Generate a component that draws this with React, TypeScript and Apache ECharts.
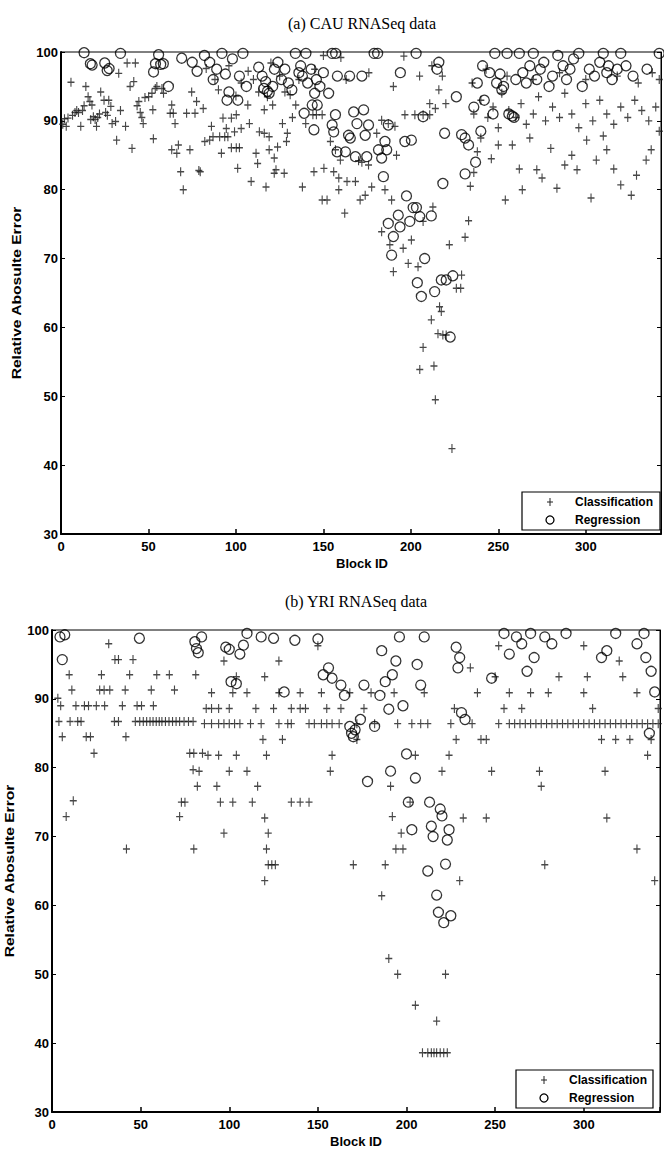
import React, { useEffect, useRef } from "react";
import * as echarts from "echarts";

const xTickLabels = [0, 50, 100, 150, 200, 250, 300];
const yTickLabels = [30, 40, 50, 60, 70, 80, 90, 100];
const titles = ["(a) CAU RNASeq data", "(b) YRI RNASeq data"];
const seriesNames = ["Classification", "Regression"];
const xName = "Block ID";
const yName = "Relative Abosulte Error";

const cauClassification = [
  [1,89.5],[2,90.3],[3,89.2],[4,90.4],[5.7,95.6],[6.6,90.8],[8,91.2],[9,91.5],[10,91.2],[11.3,89.2],[12.3,91.5],[13.2,92.2],[14.2,95],[15.5,93.5],[16.5,92.8],[17.7,92.3],[17,90.2],[18.5,90.6],[19.5,90.2],[20.3,89.2],[21,90.5],[22,91],[22.7,94.2],[24.6,93],[25.5,91.2],[26.5,90.8],[27.3,93],[28.5,92.1],[29.2,89.6],[31.2,89.9],[31.8,87.2],[33,96.9],[34,91.5],[36.9,89.2],[37.8,98.4],[39.5,95],[40.6,86],[41.6,95.7],[42.5,98.4],[43.5,92.2],[44.5,92.8],[45.3,91.2],[46.2,90.5],[47,89.6],[48,93.4],[50.1,93.5],[52,94],[53.9,94.7],[54.8,95],[57.7,94.7],[58.6,94],[52.5,91.6],[52.8,87.4],
  [62.4,91.1],[63.3,92.3],[64.2,91.1],[65.2,89.6],[71.8,91.1],[74.7,94.2],[76.6,91.1],[77.5,92.8],[81.3,91.8],[63.3,85.8],[66.2,85.3],[67.1,86.5],[73.7,85.8],[68.4,82.6],[78.8,82.8],[79.6,82.6],[69.9,80],[82.2,87],[85,87.2],[86,89.2],[86.9,87.7],[90.7,87.7],[93.6,87.7],[95.4,87.7],[91.7,85.3],[97.4,86.1],[100.2,86.1],[102,86.1],[101,83.1],[92.6,90.4],[97.4,90.4],[100.2,90.9],[94.5,88.9],[99.2,88.4],[103,88.9],[107.7,89.6],[106.8,92.3],[116.2,91.6],[121,92.3],[113.4,88.4],[116.2,88.2],[119,87.7],[111.5,85.3],[112.4,83.8],[108.7,81.2],[117.2,80.4],[119,85.8],[121.9,84.6],[123.8,86.2],[128.9,87],[122.9,82.9],[121.9,82.4],[127.6,82.4],[126.6,89.6],[129.4,88.2],[132.3,90.5],[134.2,92.3],[138,80.4],[139.9,89.6],[144,90.9],[146,90.9],[149.3,90.9],[144.6,82.6],[150.3,83.1],[155.9,82.6],[158.8,81.7],[149.3,78.5],[152.1,78.5],[158.8,80],[162.2,76.6],[154,87],[156.9,85.8],[159.7,84.3],[163.5,81.2],[168.3,81.2],[171,78.5],[173.9,79.2],[177.6,80.4],[172,84],[175.8,83.6],[170.1,84.2],[180.5,88.2],[183.3,90.1],[187.1,89.6],[190.9,89.2],[191.8,85],[185.2,80],[189,78.5],[196.6,90.9],[202.3,90.9],[207,90.9],[210.8,90.9],[210.8,92.5],
  [183.3,73.9],[188,72],[195.6,71.5],[200.3,72.7],[198.5,69.3],[204.1,68.8],[207,75.4],[212.6,77.5],[190,68.1],[216.4,63],[217.4,62.3],[211.7,61.1],[215.5,59.1],[218.3,58.9],[220.2,58.9],[207,57.1],[205.1,53.9],[213.2,54.4],[214,49.5],[223.5,42.4],
  [222,72],[226,65.7],[228.5,65.7],[229,67.6],[231,73.1],[233,75.5],[234,80.5],[236,82.5],[238,85.5],[240,87.5],
  [83,97.6],[88,96],[90,94.5],[96,98],[100,93.6],[103,95.5],[107,97.2],[110,96],[113,94.2],[118,93.5],[120,98.4],[125,96.5],[128,94.2],[131,93.8],[136,96],[145,97.5],[150,99.5],[160,99.2],[163,96],[176,97],[190,95],[196,99.4],[205,96.5],[212,98],[216,94.5],[218,96.5],[214,91.8],[220,92.5],
  [236,91],[240,93],[244,90.5],[247,92],[250,89],[252,94],[256,91.5],[260,90.5],[263,92.5],[266,89.5],[270,91],[273,93.5],[277,90],[281,92],[285,90.5],[288,94],[292,91],[296,89],[300,92.5],[304,90],[308,93],[312,91],[316,89.5],[320,92],[324,90.5],[328,93],[332,91.5],[336,90],[340,92],[342,96],[338,97],[330,95.5],[318,96.5],[300,96],[285,97],[270,96],[255,96.5],[243,97.5],[235,95.5],
  [262,83],[263.7,80],[272,82.9],[275,81.7],[283.5,80.2],[288,83.6],[292,85],[295,82.9],[300.5,87.2],[306,84.3],[312,85.8],[320,80.7],[326,79.2],[329,82.1],[334.5,84.3],[337.4,85.8],[258,86.5],[268,87.5],[280,86],[310,87.8],[316,83],[342,88.5],[246,84.5],[250,86.5],[303,78.8],[254,78.5]
];

const cauRegression = [
  [13.2,99.9],[16.8,98.3],[17.8,98.1],[25,98.4],[26.4,97.3],[27.5,97.6],[34,99.8],[52.9,97.1],[54,98.3],[55.8,99.6],[57,98.2],[58.5,98.3],[61.4,95],[69,99.1],[75,98.5],[77.8,97.2],
  [82,99.5],[85,98.5],[87,96],[89,97.5],[92,99.8],[94,96.8],[94.9,93],[96,94.2],[98,99],[101.1,93],[102,96.5],[104,99.8],[106,95],[113,97.8],[115,96.5],[116,94.7],[117,95.7],[118,94.3],[119,94],[121,95],[122,97.5],[124,98.5],[126,96],[128,97.5],[130,95.5],[132,94.5],[134,99.8],[136,97],[137,98],[138,96.5],[140,99.8],[141,95.5],[143,97.5],[145,94],[146,96],[148,95],[150,97],[153,94],[155,99.8],[157,99.8],[158,96.5],[165,96.5],[172,96.5],[179,99.8],[181,99.8],[194,97],[203,99.8],[215,97.5],[216,98.5],
  [143.6,92.3],[146.5,92.3],[139,91.1],[144.6,88.7],[156.9,90.9],[155,89.4],[155.9,88.4],[167.3,91.3],[169.2,89.6],[173,91.6],[175.8,89.4],[164.4,87.9],[165.4,87.5],[173.9,87.9],[157.8,85.5],[162.6,85.5],[168.3,84.8],[174.8,84.8],[181.5,85.8],[186.2,85.8],[185.2,87],[183.3,84.6],[187.1,89.4],[207,90.6],[196.6,87],[200.3,87.2],[184.3,81.9],[219.3,88.2],[218.3,80.9],[197.5,79.1],[201.3,77.4],[203.2,77.4],[211.7,76.2],[192.8,76.3],[187.1,75.1],[193.8,74.6],[199.4,75.4],[205.1,76.1],[190,73.2],[189,70.5],[207.9,70],[203.7,66.5],[206,64.5],[213.6,65.2],[217.4,66.9],[220.2,66.9],[222.5,58.6],[224,67.5],
  [226,93.5],[229,88],[231,87.5],[233,86.5],[236,92],[238,95.5],[241,98],[242,93],[245,97],[247,91],[248,99.8],[249,95.5],[251,96.8],[252,94.5],[255,99.8],[256,91],[258,90.7],[259,90.5],[262,99.8],[264,97],[266,95.5],[268,98],[270,99.8],[272,96],[274,97.5],[276,98.5],[279,95],[281,96.5],[284,99.5],[287,98],[289,96],[291,97.5],[293,99],[296,99.8],[298,95],[302,97.5],[305,96.5],[308,98.5],[310,99.8],[312,97],[313,98],[315,96],[318,97.5],[320,99.8],[323,98],[327,96.5],[335,97.5],[342,99.8],[237,84],[240,88.5],[253,95],[260,96],[231,82.3]
];

const yriClassification = [
  [32,98],[35.5,95.7],[37.5,95.7],[45.7,95.7],[9.7,93.5],[27.9,93.5],[43.8,93.5],[59.1,93.5],[66.2,93.5],[81.1,93.5],[11.2,91.3],[26.9,91.3],[29.4,91.3],[32.6,91.3],[41.3,91.3],[56,91.3],[69.1,91.3],[4.9,89],[13.5,89],[18.3,89],[20.6,89],[25,89],[29.7,89],[39.7,89],[48,89],[50.5,89],[57.2,89],[3.3,90.1],
  [3.9,86.7],[10.2,86.7],[14.5,86.7],[16.4,86.7],[35.2,86.7],[37.5,86.7],[47,86.7],[49.5,86.7],[51.5,86.7],[53.4,86.7],[55.3,86.7],[57,86.7],[58.8,86.7],[60.5,86.7],[62,86.7],[64,86.7],[66,86.7],[68,86.7],[70,86.7],[72,86.7],[74.5,86.7],[77,86.7],[79.6,86.7],
  [5.8,84.5],[19.3,84.5],[21.7,84.5],[41.7,84.5],[23.7,82.1],[77.7,82.1],[80,82.1],[84.9,82.1],[79.6,79.7],
  [12,75.2],[8,72.9],[73,75],[75,75],[72,72.9],[82,77.3],[83,79.5],[80,68.2],[42,68.2],
  [86,86.4],[90,86.4],[94,86.4],[97,86.4],[100,86.4],[103,86.4],[106,86.4],[112,86.4],[118,86.4],[128,86.4],[133,86.4],[135,86.4],[145,86.4],[148,86.4],[152,86.4],[155,86.4],[158,86.4],[162,86.4],[172,86.4],[182,86.4],[195,86.4],[203,86.4],[208,86.4],[212,86.4],[225,86.4],[237,86.4],[252,86.4],[258,86.4],
  [261,86.4],[264,86.4],[267,86.4],[270,86.4],[273,86.4],[276,86.4],[279,86.4],[282,86.4],[285,86.4],[288,86.4],[291,86.4],[294,86.4],[297,86.4],[300,86.4],[303,86.4],[306,86.4],[309,86.4],[312,86.4],[315,86.4],[318,86.4],[321,86.4],[324,86.4],[327,86.4],[330,86.4],[333,86.4],[336,86.4],[339,86.4],[342,86.4],
  [87,88.6],[90,88.6],[94,88.6],[100,88.6],[115,88.6],[125,88.6],[135,88.6],[140,88.6],[143,88.6],[155,88.6],[163,88.6],[176,88.6],[227,88.6],[255,88.6],[265,88.6],[305,88.6],[342,88.6],
  [90,90.9],[102,90.9],[110,90.9],[128,90.9],[140,90.9],[152,90.9],[168,90.9],[180,90.9],[193,90.9],[210,90.9],[240,90.9],[258,90.9],[270,90.9],[280,90.9],[300,90.9],[330,90.9],
  [104,93.2],[120,93.2],[236,94.5],[250,93.2],[286,93.2],[302,93.2],[322,93.2],[97,95.5],[128,95.5],[320,95.5],[252,97.7],[300,97.7],[150,97.7],
  [119,84.1],[130,84.1],[172,84.1],[228,84.1],[242,84.1],[245,84.1],[310,84.1],[318,84.1],[326,84.1],[338,84.1],
  [88,81.8],[94,81.8],[104,81.8],[121,81.8],[158,81.8],[205,81.8],[224,81.8],[336,81.8],
  [100,79.5],[110,79.5],[157,79.5],[220,79.5],[248,79.5],[275,79.5],[312,79.5],
  [93,77.3],[116,77.3],[191,77.3],[276,77.3],
  [95,75],[102,75],[113,75],[135,75],[140,75],[145,75],[202,75],
  [120,72.7],[192,72.9],[232,72.7],[245,72.7],[313,72.7],
  [97,70.5],[122,70.5],[197,70.5],
  [121,68.2],[194,68.2],[198,68.2],[330,68.2],
  [122,65.9],[124,65.9],[126,65.9],[170,65.9],[188,65.9],[278,65.9],
  [120,63.6],[230,63.6],[340,63.6],
  [186,61.4],[190,52.3],[195,50],[222,50],[205,45.5],[217,43.2],
  [209,38.6],[212,38.6],[214,38.6],[215.5,38.6],[217,38.6],[219,38.6],[221,38.6],[223,38.6]
];

const yriRegression = [
  [4.5,99],[7.2,99.3],[5.8,95.7],[49.3,98.8],[80.6,98.3],[81.5,97.3],[82.5,96.7],[84.4,99],[98,97.5],[100,97.2],[101,92.5],[104,92.2],[106,96.5],[108,97.8],[110,99.5],[118,99],[125,98.8],[131,91],[137,98.5],[150,98.7],[153,93.5],[156,94.5],[158,93],[163,92],[165,90.5],[168,86],[169,85],[170,84.5],[171,85.5],[174,87],[176,92],[178,78],[182,86],[185,90.5],[186,97],[188,92.5],[190,88.5],[191,79.5],[192,93.5],[194,95.5],[196,99],[198,89],[200,82],[201,75],[203,71],[205,78.5],[206,95],[208,92],[210,99],[212,65],[213,75],[214,71.5],[215,70],[217,61.5],[218,59],[219,74],[220,73],[221,57.5],[222,66],[223,69.5],[224,71],[225,58.5],[228,97.5],[229,94.5],[230,96],[231,88],[233,87],[248,93],[255,99.5],[258,96.5],[262,99],[265,98],[268,94],[270,99.5],[272,96],[278,99],[282,98],[290,99.5],[310,96],[313,97],[318,99.5],[330,98],[334,99.5],[335,96],[337,85],[338,94],[340,91]
];

const PLUS = "path://M4.2,0H5.8V4.2H10V5.8H5.8V10H4.2V5.8H0V4.2H4.2Z";
const SANS = "Liberation Sans";
const SERIF = "Liberation Serif";

function legendGroup(x: number, y: number, w: number, h: number) {
  const mx = x + 28;
  const tx = x + 53;
  const r1 = y + 10;
  const r2 = y + 28;
  return {
    type: "group",
    children: [
      { type: "rect", shape: { x, y, width: w, height: h }, style: { fill: "#fff", stroke: "#000", lineWidth: 1.2 }, z: 100 },
      { type: "line", shape: { x1: mx, y1: r1 - 4, x2: mx, y2: r1 + 4 }, style: { stroke: "#222", lineWidth: 1 }, z: 101 },
      { type: "line", shape: { x1: mx - 3, y1: r1, x2: mx + 3, y2: r1 }, style: { stroke: "#222", lineWidth: 1 }, z: 101 },
      { type: "circle", shape: { cx: mx, cy: r2, r: 4 }, style: { fill: "none", stroke: "#000", lineWidth: 1.3 }, z: 101 },
      { type: "text", x: tx, y: r1, style: { text: seriesNames[0], font: `bold 12px "${SANS}"`, fill: "#000", verticalAlign: "middle", align: "left" }, z: 101 },
      { type: "text", x: tx, y: r2, style: { text: seriesNames[1], font: `bold 12px "${SANS}"`, fill: "#000", verticalAlign: "middle", align: "left" }, z: 101 },
    ],
  };
}

export default function App() {
  const ref = useRef<HTMLDivElement>(null);
  useEffect(() => {
    if (!ref.current) return;
    const chart = echarts.init(ref.current, undefined, { renderer: "svg" });
    const grids = [
      { left: 61, top: 52, width: 603, height: 482 },
      { left: 52, top: 630, width: 608, height: 482 },
    ];
    const xLabelFmt = (v: number) => (xTickLabels.includes(v) ? String(v) : "");
    const yLabelFmt = (v: number) => (yTickLabels.includes(v) ? String(v) : "");
    const option: any = {
      animation: false,
      backgroundColor: "#fff",
      grid: grids.map((g) => ({ ...g, show: true, borderColor: "#000", borderWidth: 1, backgroundColor: "transparent" })),
      xAxis: grids.map((_, i) => ({
        type: "value",
        gridIndex: i,
        min: 0,
        max: 343,
        interval: 50,
        axisLine: { show: true, onZero: false, lineStyle: { color: "#000", width: 2 } },
        axisTick: { show: true, inside: true, length: 5, lineStyle: { color: "#000", width: 1.5 } },
        splitLine: { show: false },
        axisLabel: { color: "#000", fontFamily: SANS, fontWeight: "bold", fontSize: 13, margin: 6, formatter: xLabelFmt },
      })),
      yAxis: [
        ...grids.map((_, i) => ({
          type: "value",
          gridIndex: i,
          min: 30,
          max: 100,
          interval: 10,
          position: "left",
          axisLine: { show: true, onZero: false, lineStyle: { color: "#000", width: 2 } },
          axisTick: { show: true, inside: true, length: 4, lineStyle: { color: "#000", width: 1 } },
          splitLine: { show: false },
          axisLabel: { color: "#000", fontFamily: SANS, fontWeight: "bold", fontSize: 13, margin: 3, formatter: yLabelFmt },
        })),
        ...grids.map((_, i) => ({
          type: "value",
          gridIndex: i,
          min: 30,
          max: 100,
          interval: 10,
          position: "right",
          axisLine: { show: true, onZero: false, lineStyle: { color: "#000", width: 1 } },
          axisTick: { show: true, inside: true, length: 4, lineStyle: { color: "#000", width: 1 } },
          splitLine: { show: false },
          axisLabel: { show: false },
        })),
      ],
      series: [
        { data: cauClassification, xi: 0, kind: 0 },
        { data: cauRegression, xi: 0, kind: 1 },
        { data: yriClassification, xi: 1, kind: 0 },
        { data: yriRegression, xi: 1, kind: 1 },
      ].map((s) => ({
        type: "scatter",
        name: seriesNames[s.kind],
        xAxisIndex: s.xi,
        yAxisIndex: s.xi,
        data: s.data,
        symbol: s.kind === 0 ? PLUS : "circle",
        symbolSize: s.kind === 0 ? [7, 9] : 10,
        itemStyle:
          s.kind === 0
            ? { color: "#1a1a1a" }
            : { color: "rgba(255,255,255,0)", borderColor: "#000", borderWidth: 1.3 },
        z: s.kind === 0 ? 3 : 4,
        silent: true,
      })),
      graphic: [
        { type: "text", x: 362, y: 23, style: { text: titles[0], font: `16px "${SERIF}"`, fill: "#000", align: "center", verticalAlign: "middle" } },
        { type: "text", x: 356, y: 601, style: { text: titles[1], font: `16px "${SERIF}"`, fill: "#000", align: "center", verticalAlign: "middle" } },
        { type: "text", x: 362, y: 563, style: { text: xName, font: `bold 13px "${SANS}"`, fill: "#000", align: "center", verticalAlign: "middle" } },
        { type: "text", x: 356, y: 1141, style: { text: xName, font: `bold 13px "${SANS}"`, fill: "#000", align: "center", verticalAlign: "middle" } },
        { type: "text", x: 16, y: 293, rotation: Math.PI / 2, scaleX: 1.2, style: { text: yName, font: `bold 13px "${SANS}"`, fill: "#000", align: "center", verticalAlign: "middle" } },
        { type: "text", x: 9, y: 871, rotation: Math.PI / 2, scaleX: 1.2, style: { text: yName, font: `bold 13px "${SANS}"`, fill: "#000", align: "center", verticalAlign: "middle" } },
        legendGroup(522, 492, 138, 38),
        legendGroup(516, 1070, 137, 38),
      ],
    };
    chart.setOption(option);
    return () => chart.dispose();
  }, []);
  return <div ref={ref} style={{ position: "absolute", left: 0, top: 0, width: 664, height: 1149 }} />;
}
